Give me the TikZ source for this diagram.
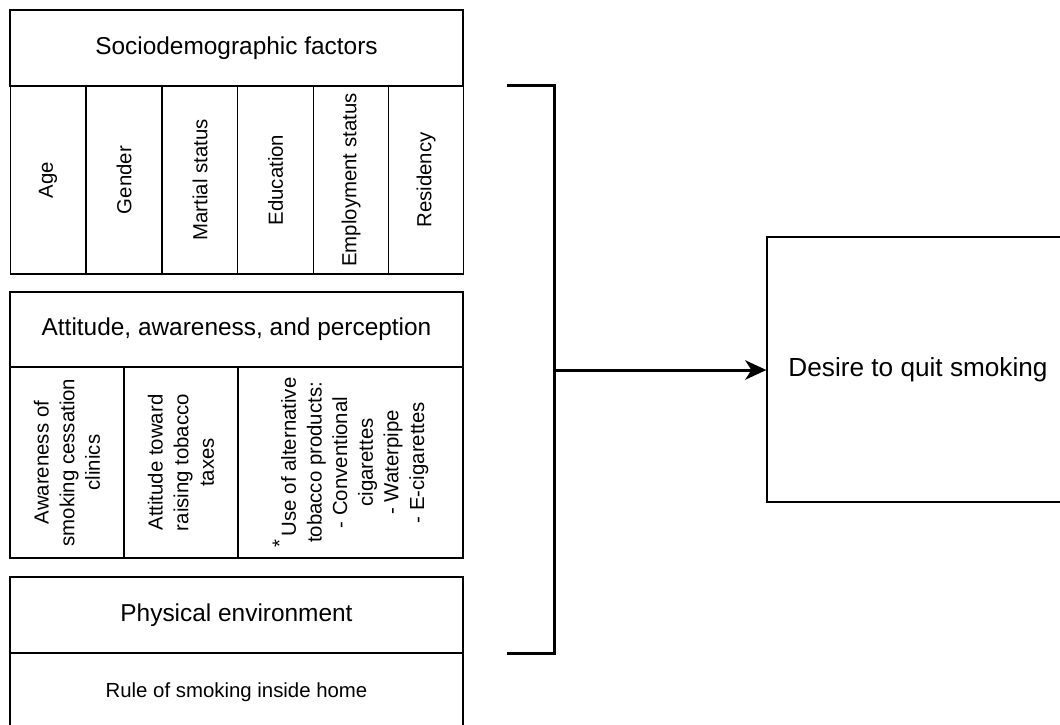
\documentclass[tikz,border=0pt]{standalone}
\usepackage{fontspec}
\setmainfont{Liberation Sans}
\usetikzlibrary{arrows.meta,positioning}

\begin{document}
\begin{tikzpicture}[
  head/.style={rectangle, draw=black, line width=0.75pt,
    minimum width=9.06cm, minimum height=1.52cm, inner sep=0pt,
    font=\fontsize{13.9}{16.7}\selectfont, align=center},
  cell/.style={rectangle, draw=black, line width=0.75pt, rotate=90,
    minimum height=1.51cm, inner sep=0pt,
    font=\fontsize{11.6}{14.6}\selectfont, align=center},
  goalbox/.style={rectangle, draw=black, line width=0.75pt,
    minimum width=6.04cm, minimum height=5.3cm, inner sep=0pt,
    font=\fontsize{14.9}{17.9}\selectfont, align=center},
  bracket/.style={line width=1.7pt},
  bigarrow/.style={-{Stealth[length=12pt, width=11pt, inset=3.5pt]}, line width=1.7pt}
]
\useasboundingbox (0,0) rectangle (21.2,-14.48);
\node[head] (h0) at (4.73,-0.96) {Sociodemographic factors};
\foreach \x/\t/\n in {0.96/Age/a, 2.48/Gender/b, 4.0/Martial status/c,
    5.51/Education/d, 7.02/Employment status/e, 8.52/Residency/f}
  {\node[cell, minimum width=3.76cm] (c0\n) at (\x,-3.6) {\t};}
\node[head, minimum height=1.5cm] (h1) at (4.73,-6.59) {Attitude, awareness, and perception};
\node[cell, minimum width=3.82cm, minimum height=2.28cm] (c1a) at (1.34,-9.25)
  {Awareness of\\smoking cessation\\clinics};
\node[cell, minimum width=3.82cm, minimum height=2.28cm] (c1b) at (3.62,-9.25)
  {Attitude toward\\raising tobacco\\taxes};
\node[cell, minimum width=3.82cm, minimum height=4.5cm] (c1c) at (7.01,-9.25)
  {\raisebox{0.45em}{*}\,Use of alternative\\tobacco products:\\- Conventional\\cigarettes\\- Waterpipe\\- E-cigarettes};
\node[head] (h2) at (4.73,-12.3) {Physical environment};
\node[head, minimum height=1.56cm, font=\fontsize{11.6}{14.6}\selectfont] (c2a) at (4.73,-13.84)
  {Rule of smoking inside home};
\node[goalbox] (goal) at (18.36,-7.39) {Desire to quit smoking};
\coordinate (brtop) at (10.14,-1.7);
\coordinate (brbot) at (10.14,-13.06);
\coordinate (join) at (11.08,-7.4);
\draw[bracket] (brtop) -| (join) |- (brbot);
\draw[bigarrow] (join) -- (join -| goal.west);
\end{tikzpicture}
\end{document}
